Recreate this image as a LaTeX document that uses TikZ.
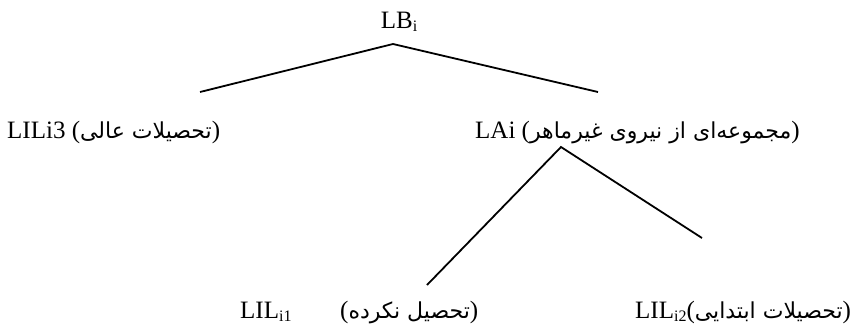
\documentclass[tikz,border=0pt]{standalone}
\usepackage{fontspec}
\setmainfont{Liberation Serif}
\newfontfamily\arabicfont[Script=Arabic]{DejaVu Sans}
\TeXXeTstate=1
\newcommand\farsi[1]{{\arabicfont\fontsize{22}{26}\selectfont\beginR #1\endR}}
\newcommand\lsub[1]{\raisebox{-0.15em}{\fontsize{16}{18}\selectfont #1}}
\begin{document}
\begin{tikzpicture}[x=1pt,y=-1pt,
  lbl/.style={inner sep=0pt, anchor=base west, font=\fontsize{25}{30}\selectfont},
  branch/.style={line width=1.8pt}]
\useasboundingbox (0,0) rectangle (855,325);
% labels
\node[lbl, anchor=base] (lb) at (399,28) {LB\lsub{i}};
\node[lbl] (l3) at (7,138) {LILi3 (\farsi{تحصیلات عالی})};
\node[lbl] (la) at (475,138) {LAi (\farsi{مجموعه‌ای از نیروی غیرماهر})};
\node[lbl] (l1) at (240,318) {LIL\lsub{i1}};
\node[lbl] (l1f) at (340,318) {(\farsi{تحصیل نکرده})};
\node[lbl] (l2) at (635,318) {LIL\lsub{i2}(\farsi{تحصیلات ابتدایی})};
% connector points
\coordinate (top) at (393,44);
\coordinate (left) at (200,92);
\coordinate (right) at (598,92);
\coordinate (mid) at (561,147);
\coordinate (bl) at (427,285);
\coordinate (br) at (702,238);
\draw[branch] (left) -- (top) -- (right);
\draw[branch] (bl) -- (mid) -- (br);
\end{tikzpicture}
\end{document}
